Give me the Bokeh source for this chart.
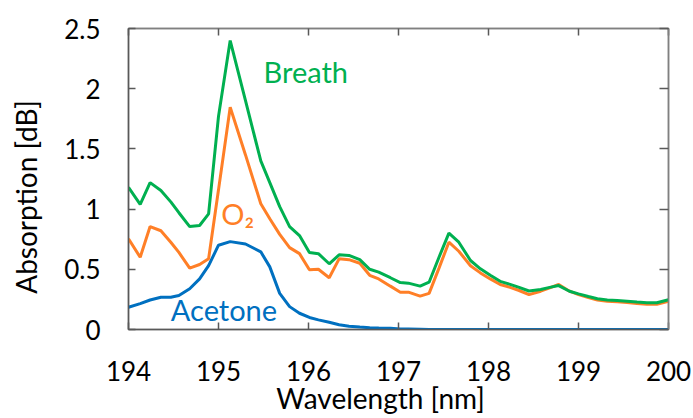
from bokeh.plotting import figure
from bokeh.models import LinearAxis, Range1d, Label, FixedTicker
from bokeh.embed import file_html
from bokeh.resources import INLINE

wl_breath = [194.0, 194.13, 194.24, 194.36, 194.47, 194.56, 194.68, 194.79, 194.89, 195.0, 195.13,
             195.3, 195.47, 195.57, 195.68, 195.79, 195.9, 196.01, 196.11, 196.23, 196.34, 196.45,
             196.57, 196.68, 196.78, 196.91, 197.02, 197.11, 197.24, 197.34, 197.45, 197.56, 197.67,
             197.8, 197.91, 198.02, 198.13, 198.24, 198.34, 198.45, 198.58, 198.68, 198.78, 198.9,
             199.0, 199.11, 199.21, 199.32, 199.43, 199.54, 199.65, 199.76, 199.87, 200.0]
breath = [1.18, 1.04, 1.22, 1.155, 1.06, 0.97, 0.855, 0.864, 0.96, 1.77, 2.40,
          1.90, 1.40, 1.22, 1.02, 0.855, 0.78, 0.64, 0.63, 0.546, 0.62, 0.615,
          0.58, 0.50, 0.476, 0.43, 0.39, 0.385, 0.36, 0.393, 0.60, 0.80, 0.725,
          0.573, 0.504, 0.45, 0.40, 0.375, 0.35, 0.32, 0.332, 0.35, 0.365, 0.318,
          0.296, 0.274, 0.255, 0.245, 0.24, 0.235, 0.228, 0.222, 0.222, 0.247]
o2 = [0.753, 0.60, 0.855, 0.82, 0.725, 0.64, 0.51, 0.54, 0.587, 1.16, 1.846,
      1.45, 1.044, 0.92, 0.79, 0.68, 0.63, 0.496, 0.50, 0.43, 0.587, 0.58,
      0.55, 0.45, 0.42, 0.36, 0.31, 0.31, 0.277, 0.30, 0.51, 0.725, 0.65,
      0.53, 0.47, 0.42, 0.374, 0.35, 0.324, 0.29, 0.318, 0.345, 0.374, 0.318,
      0.29, 0.265, 0.245, 0.235, 0.23, 0.225, 0.215, 0.21, 0.21, 0.235]
acetone = [0.185, 0.215, 0.245, 0.268, 0.268, 0.282, 0.338, 0.42, 0.53, 0.70, 0.73,
           0.71, 0.645, 0.52, 0.30, 0.19, 0.135, 0.10, 0.08, 0.06, 0.04, 0.027,
           0.02, 0.015, 0.012, 0.01, 0.005, 0.005, 0.003, 0.0, 0.0, 0.0, 0.0,
           0.0, 0.0, 0.0, 0.0, 0.0, 0.0, 0.0, 0.0, 0.0, 0.0, 0.0,
           0.0, 0.0, 0.0, 0.0, 0.0, 0.0, 0.0, 0.0, 0.0, 0.0]

x_ticks = [194, 195, 196, 197, 198, 199, 200]
y_ticks = [0, 0.5, 1, 1.5, 2, 2.5]
y_tick_labels = ["0", "0.5", "1", "1.5", "2", "2.5"]

GREEN = "#00b050"
ORANGE = "#ff7f27"
BLUE = "#0070c0"
FRAME = "#808080"
FONT = "Lato"
NBSP = "\u00a0"

p = figure(width=693, height=418, output_backend="svg", toolbar_location=None,
           x_range=Range1d(194, 200), y_range=Range1d(0, 2.5),
           min_border_left=128, min_border_right=25, min_border_top=28, min_border_bottom=89)
p.grid.visible = False
p.outline_line_color = FRAME
p.outline_line_width = 1.5
p.background_fill_color = "white"
p.border_fill_color = "white"

p.line(wl_breath, acetone, color=BLUE, line_width=3)
p.line(wl_breath, o2, color=ORANGE, line_width=3)
p.line(wl_breath, breath, color=GREEN, line_width=3)

xa = p.xaxis[0]
xa.ticker = FixedTicker(ticks=x_ticks)
xa.axis_label = "Wavelength [nm]" + NBSP * 5
ya = p.yaxis[0]
ya.ticker = FixedTicker(ticks=y_ticks)
ya.major_label_overrides = {t: l for t, l in zip(y_ticks, y_tick_labels)}
ya.axis_label = "Absorption [dB]" + NBSP * 5

for ax in (xa, ya):
    ax.axis_line_color = "#595959"
    ax.axis_line_width = 1.5
    ax.major_tick_in = 7
    ax.major_tick_out = 0
    ax.major_tick_line_color = "#595959"
    ax.major_tick_line_width = 1.5
    ax.minor_tick_line_color = None
    ax.major_label_text_font = FONT
    ax.major_label_text_font_size = "26px"
    ax.major_label_text_color = "#000000"
    ax.axis_label_text_font = FONT
    ax.axis_label_text_font_size = "28px"
    ax.axis_label_text_font_style = "normal"
    ax.axis_label_text_color = "#000000"
xa.major_label_standoff = 31
xa.axis_label_standoff = -3
ya.major_label_standoff = 28
ya.axis_label_standoff = 18

right = LinearAxis(ticker=FixedTicker(ticks=y_ticks), major_tick_in=9, major_tick_out=0,
                   axis_line_color=FRAME, axis_line_width=1.5, major_tick_line_color="#595959",
                   major_tick_line_width=1.5, minor_tick_line_color=None,
                   major_label_text_font_size="0px", major_label_standoff=0)
p.add_layout(right, "right")
top = LinearAxis(ticker=FixedTicker(ticks=x_ticks), major_tick_in=7, major_tick_out=0,
                 axis_line_color=FRAME, axis_line_width=1.5, major_tick_line_color="#595959",
                 major_tick_line_width=1.5, minor_tick_line_color=None,
                 major_label_text_font_size="0px", major_label_standoff=0)
p.add_layout(top, "above")

p.add_layout(Label(x=195.5, y=2.14, text="Breath", text_color=GREEN, text_font=FONT,
                   text_font_size="29px", text_baseline="alphabetic"))
p.add_layout(Label(x=195.03, y=0.96, text="O₂", text_color=ORANGE, text_font=FONT,
                   text_font_size="29px", text_baseline="alphabetic"))
p.add_layout(Label(x=194.47, y=0.17, text="Acetone", text_color=BLUE, text_font=FONT,
                   text_font_size="29px", text_baseline="alphabetic"))

open("out.html", "w").write(file_html(p, INLINE))
